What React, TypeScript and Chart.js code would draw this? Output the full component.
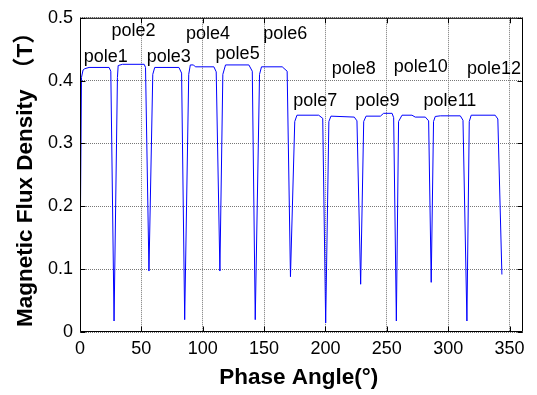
import React, { useEffect, useRef } from "react";
import { Chart, registerables } from "chart.js";

Chart.register(...registerables);

// Phase angle (degrees) of each sampled point
const angleDeg = [
  0, 1.2, 2.5, 3.9, 7.4, 23.7, 25.1, 27.75,
  30.5, 31.1, 34.6, 52.3, 53.4, 56.2,
  59.3, 60.9, 80.6, 82.8, 85.3,
  88.6, 89.9, 92.5, 94.0, 109.1, 111.0, 114.0,
  116.4, 118.6, 137.6, 140.4, 142.8,
  146.3, 147.9, 164.8, 168.8, 171.5,
  175.0, 176.8, 194.5, 197.8, 200.2,
  202.8, 204.5, 223.5, 225.7, 228.7,
  231.2, 233.1, 244.8, 247.4, 254.3, 255.6, 257.8,
  259.6, 262.4, 270.5, 273.2, 281.4, 284.1, 286.2,
  288.1, 289.5, 293.6, 309.9, 312.1, 315.3,
  317.2, 318.8, 338.3, 340.5, 343.8,
];

// Magnetic flux density (T) at each angle
const fluxT = [
  0.095, 0.405, 0.417, 0.419, 0.421, 0.421, 0.415, 0.0175,
  0.405, 0.424, 0.426, 0.426, 0.421, 0.097,
  0.41, 0.421, 0.421, 0.412, 0.0196,
  0.41, 0.425, 0.425, 0.422, 0.422, 0.414, 0.097,
  0.41, 0.425, 0.425, 0.415, 0.0196,
  0.41, 0.422, 0.422, 0.415, 0.088,
  0.335, 0.345, 0.345, 0.34, 0.0144,
  0.335, 0.3435, 0.342, 0.336, 0.076,
  0.335, 0.3435, 0.3435, 0.348, 0.348, 0.341, 0.0175,
  0.335, 0.345, 0.345, 0.342, 0.342, 0.336, 0.079,
  0.335, 0.343, 0.344, 0.344, 0.337, 0.0175,
  0.335, 0.345, 0.345, 0.339, 0.0915,
];

const xTickValues = [0, 50, 100, 150, 200, 250, 300, 350];
const xTickLabels = ["0", "50", "100", "150", "200", "250", "300", "350"];
const yTickValues = [0, 0.1, 0.2, 0.3, 0.4, 0.5];
const yTickLabels = ["0", "0.1", "0.2", "0.3", "0.4", "0.5"];

const poleLabels = [
  "pole1", "pole2", "pole3", "pole4", "pole5", "pole6",
  "pole7", "pole8", "pole9", "pole10", "pole11", "pole12",
];
const poleLabelX = [3.1, 25.6, 54.4, 86.3, 110.5, 149.3, 173.7, 205.1, 224.4, 255.6, 280.0, 315.3];
const poleLabelY = [0.43, 0.471, 0.43, 0.467, 0.435, 0.467, 0.359, 0.411, 0.36, 0.414, 0.36, 0.411];

const xTitle = "Phase Angle(°)";
const yTitleMain = "Magnetic Flux Density";
const yTitleUnit = "（T）";

const FONT = '"Liberation Sans", Arial, "Noto Sans CJK SC", sans-serif';

const overlayPlugin = {
  id: "overlay",
  afterDatasetsDraw(chart: any) {
    const { ctx, chartArea: a, scales } = chart;
    const xs = scales.x;
    const ys = scales.y;
    ctx.save();
    ctx.setLineDash([]);
    ctx.strokeStyle = "#000";
    ctx.lineWidth = 1;
    const L = a.left + 0.5;
    const R = a.right - 0.5;
    const T = a.top + 0.5;
    const B = a.bottom - 0.5;
    ctx.beginPath();
    ctx.rect(L, T, R - L, B - T);
    // inward tick marks
    const tk = 5;
    xTickValues.forEach((v) => {
      const px = Math.round(xs.getPixelForValue(v)) + 0.5;
      ctx.moveTo(px, B);
      ctx.lineTo(px, B - tk);
      ctx.moveTo(px, T);
      ctx.lineTo(px, T + tk);
    });
    yTickValues.forEach((v) => {
      const py = Math.round(ys.getPixelForValue(v)) + 0.5;
      ctx.moveTo(L, py);
      ctx.lineTo(L + tk, py);
      ctx.moveTo(R, py);
      ctx.lineTo(R - tk, py);
    });
    ctx.stroke();

    // pole annotations
    ctx.fillStyle = "#000";
    ctx.font = `18px ${FONT}`;
    ctx.textAlign = "left";
    ctx.textBaseline = "alphabetic";
    poleLabels.forEach((t, i) => {
      ctx.fillText(t, xs.getPixelForValue(poleLabelX[i]), ys.getPixelForValue(poleLabelY[i]));
    });

    // axis titles
    ctx.font = `bold 22.5px ${FONT}`;
    ctx.textAlign = "center";
    ctx.fillText(xTitle, 298.7, 383.5);
    ctx.translate(32, 327);
    ctx.rotate(-Math.PI / 2);
    ctx.textAlign = "left";
    ctx.fillText(yTitleMain, 0, 0);
    ctx.fillText(yTitleUnit, 247, 0);
    ctx.restore();
  },
};

export default function App() {
  const ref = useRef<HTMLCanvasElement | null>(null);
  useEffect(() => {
    if (!ref.current) return;
    const points = angleDeg.map((x, i) => ({ x, y: fluxT[i] }));
    const chart = new Chart(ref.current, {
      type: "line",
      data: {
        datasets: [
          {
            data: points,
            borderColor: "#0000ff",
            borderWidth: 1,
            pointRadius: 0,
            tension: 0,
            fill: false,
          },
        ],
      },
      options: {
        responsive: false,
        animation: false,
        events: [],
        layout: { padding: { left: 0, right: 14, top: 8, bottom: 0 }, autoPadding: false },
        plugins: { legend: { display: false }, tooltip: { enabled: false }, title: { display: false } },
        scales: {
          x: {
            type: "linear",
            min: 0,
            max: 361,
            afterBuildTicks: (s: any) => {
              s.ticks = xTickValues.map((v) => ({ value: v }));
            },
            afterFit: (s: any) => {
              s.height = 63;
            },
            ticks: {
              autoSkip: false,
              maxRotation: 0,
              color: "#000",
              padding: 6,
              font: { family: FONT, size: 18 },
              callback: (v: any) => {
                const i = xTickValues.indexOf(Number(v));
                return i >= 0 ? xTickLabels[i] : "";
              },
            },
            grid: { color: "#777", lineWidth: 1, drawTicks: false },
            border: { display: false, dash: [1, 1] },
          },
          y: {
            type: "linear",
            min: 0,
            max: 0.5,
            afterBuildTicks: (s: any) => {
              s.ticks = yTickValues.map((v) => ({ value: v }));
            },
            afterFit: (s: any) => {
              s.width = 80;
            },
            ticks: {
              autoSkip: false,
              color: "#000",
              padding: 7,
              font: { family: FONT, size: 18 },
              callback: (v: any) => {
                const i = yTickValues.findIndex((t) => Math.abs(t - Number(v)) < 1e-9);
                return i >= 0 ? yTickLabels[i] : "";
              },
            },
            grid: { color: "#777", lineWidth: 1, drawTicks: false },
            border: { display: false, dash: [1, 1] },
          },
        },
      },
      plugins: [overlayPlugin],
    });
    return () => chart.destroy();
  }, []);
  return (
    <div style={{ position: "fixed", left: 0, top: 0, width: 537, height: 395, background: "#fff" }}>
      <canvas ref={ref} width={537} height={395} style={{ display: "block" }} />
    </div>
  );
}
